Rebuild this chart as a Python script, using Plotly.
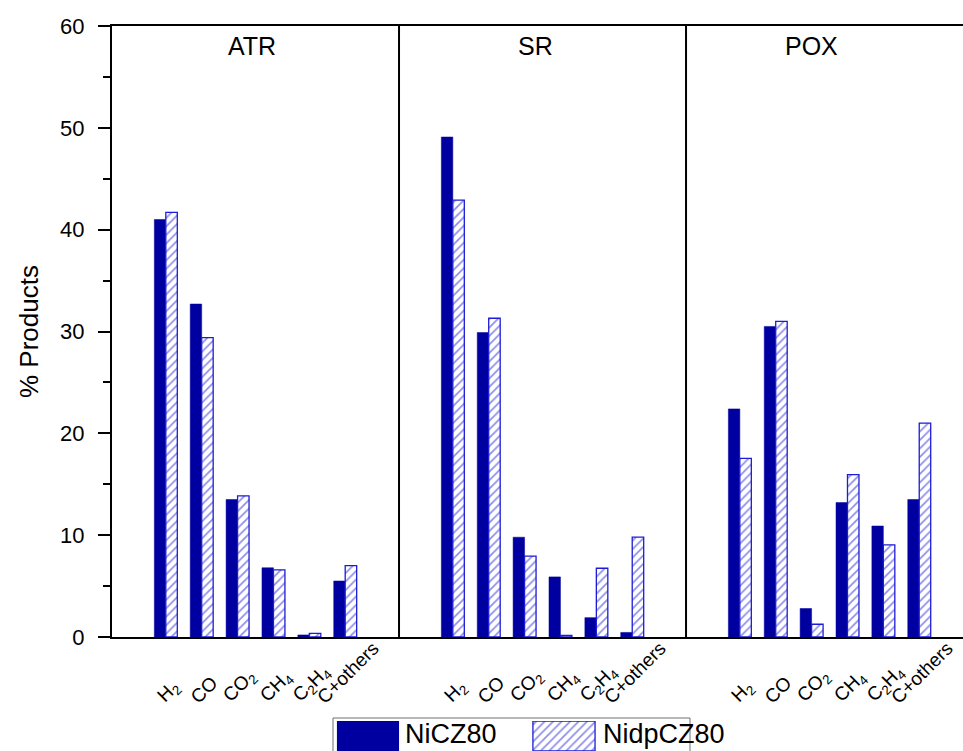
import plotly.graph_objects as go

# ---------------- data ----------------
panels = ["ATR", "SR", "POX"]
products = ["H<sub>2</sub>", "CO", "CO<sub>2</sub>", "CH<sub>4</sub>", "C<sub>2</sub>H<sub>4</sub>", "C+others"]

nicz80_atr = [41.0, 32.7, 13.5, 6.8, 0.2, 5.5]
nicz80_sr = [49.1, 29.9, 9.8, 5.9, 1.9, 0.45]
nicz80_pox = [22.4, 30.5, 2.8, 13.2, 10.9, 13.5]

nidpcz80_atr = [41.7, 29.4, 13.85, 6.6, 0.35, 7.0]
nidpcz80_sr = [42.9, 31.3, 7.95, 0.15, 6.75, 9.8]
nidpcz80_pox = [17.55, 31.0, 1.25, 15.95, 9.05, 21.0]

series_names = ["NiCZ80", "NidpCZ80"]

# ---------------- layout helpers ----------------
W, H = 963, 751
TOP = 26
PH = H - TOP  # paper height in px
FONT = "Liberation Sans, Arial, sans-serif"
NAVY = "#0000A0"
HATCH = "#1C1CD6"

panel_width = 8
first_offset = 1.5
xpos = []
for p in range(len(panels)):
    for i in range(len(products)):
        xpos.append(p * panel_width + first_offset + i)
labels = products * len(panels)

y1 = nicz80_atr + nicz80_sr + nicz80_pox
y2 = nidpcz80_atr + nidpcz80_sr + nidpcz80_pox

hatch_pattern = dict(shape="/", fgcolor=HATCH, bgcolor="white", size=6, solidity=0.28)

fig = go.Figure()
fig.add_trace(go.Bar(
    x=xpos, y=y1, name=series_names[0],
    marker=dict(color=NAVY, line=dict(color=NAVY, width=0.5)),
    showlegend=False,
))
fig.add_trace(go.Bar(
    x=xpos, y=y2, name=series_names[1],
    marker=dict(color="white", line=dict(color=HATCH, width=1.3), pattern=hatch_pattern),
    showlegend=False,
))

# custom legend swatches on auxiliary axes
fig.add_trace(go.Bar(
    x=[0.0], y=[1], base=[0], width=[0.174], offset=[0.011],
    marker=dict(color=NAVY, line=dict(width=0)),
    xaxis="x2", yaxis="y2", showlegend=False, hoverinfo="skip",
))
fig.add_trace(go.Bar(
    x=[0.0], y=[1], base=[0], width=[0.174], offset=[0.560],
    marker=dict(color="white", line=dict(color=HATCH, width=1.3), pattern=hatch_pattern),
    xaxis="x2", yaxis="y2", showlegend=False, hoverinfo="skip",
))

x_left = 112
y_bottom = 637

fig.update_layout(
    width=W, height=H,
    margin=dict(l=0, r=0, t=TOP, b=0),
    paper_bgcolor="white", plot_bgcolor="white",
    font=dict(family=FONT, color="black"),
    barmode="group", bargap=0.36, bargroupgap=0,
    xaxis=dict(
        domain=[x_left / W, 1], range=[0, 23.72],
        tickvals=xpos, showticklabels=False,
        ticks="", showline=True, linecolor="black", linewidth=2, mirror=True,
        showgrid=False, zeroline=False, automargin=False,
    ),
    yaxis=dict(
        domain=[(H - y_bottom) / PH, 1], range=[0, 60],
        tickvals=[0, 10, 20, 30, 40, 50, 60],
        tickfont=dict(size=22, family=FONT, color="black"),
        ticks="outside", ticklen=12, tickwidth=1.5, tickcolor="black",
        minor=dict(ticks="outside", ticklen=7, tickwidth=1.5, tickcolor="black", dtick=5, showgrid=False),
        ticklabelstandoff=9,
        showline=True, linecolor="black", linewidth=2,
        showgrid=False, zeroline=False, automargin=False,
        title=dict(text="% Products", font=dict(size=26, family=FONT, color="black"), standoff=14),
    ),
    xaxis2=dict(domain=[333 / W, 690 / W], range=[0, 1], visible=False, anchor="y2"),
    yaxis2=dict(domain=[0, 30 / PH], range=[0, 1], visible=False, anchor="x2"),
)

# rotated category labels (Origin-style: centred on each tick, bottom-aligned)
label_bottom = (H - 709) / PH
for xv, lab in zip(xpos, labels):
    fig.add_annotation(x=xv + 0.08, y=label_bottom, xref="x", yref="paper", text=lab,
                       textangle=-45, showarrow=False, xanchor="center", yanchor="bottom",
                       borderpad=0, font=dict(size=19, family=FONT, color="black"))

# panel dividers
for k in range(1, len(panels)):
    fig.add_shape(type="line", xref="x", yref="y", x0=k * panel_width, x1=k * panel_width,
                  y0=0, y1=60, line=dict(color="black", width=2))

# panel titles
title_x = [3.9, 11.8, 19.5]
for name, tx in zip(panels, title_x):
    fig.add_annotation(x=tx, y=58.0, xref="x", yref="y", text=name, showarrow=False,
                       font=dict(size=25, family=FONT, color="black"))

# legend box and texts
fig.add_shape(type="rect", xref="paper", yref="paper",
              x0=333 / W, x1=690 / W, y0=-0.05, y1=(H - 718) / PH,
              line=dict(color="#707070", width=1), fillcolor="rgba(0,0,0,0)", layer="below")
fig.add_annotation(x=403 / W, y=(H - 734) / PH, xref="paper", yref="paper", text=series_names[0],
                   showarrow=False, xanchor="left", yanchor="middle",
                   font=dict(size=27, family=FONT, color="black"))
fig.add_annotation(x=601 / W, y=(H - 734) / PH, xref="paper", yref="paper", text=series_names[1],
                   showarrow=False, xanchor="left", yanchor="middle",
                   font=dict(size=27, family=FONT, color="black"))

fig.write_html("out.html")
